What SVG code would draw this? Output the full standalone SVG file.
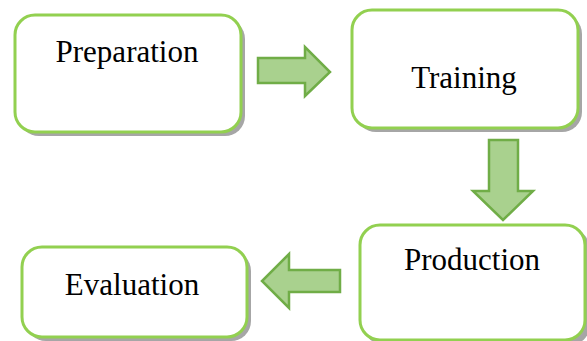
<svg xmlns="http://www.w3.org/2000/svg" width="587" height="341" viewBox="0 0 587 341">
<defs>
<style>
.shadow{fill:#a6a6a6;}
.box{fill:#ffffff;stroke:#92d050;stroke-width:3;}
.arrow{fill:#a9d18e;stroke:#70ad47;stroke-width:2.5;stroke-linejoin:miter;}
.label{font-family:"Liberation Serif","Times New Roman",serif;font-size:31px;fill:#000;text-anchor:middle;}
</style>
</defs>
<rect width="587" height="341" fill="#ffffff"/>
<g id="connectors">
<polygon class="arrow" points="258,58 305,58 305,47 330,72 305,96 305,83 258,83"/>
<polygon class="arrow" points="489,140 518,140 518,191 533,191 503,220 473,191 489,191"/>
<polygon class="arrow" points="340,270 289,270 289,254 262,281 289,308 289,292 340,292"/>
</g>
<g id="preparation">
<rect class="shadow" x="19" y="19" width="226" height="117" rx="20"/>
<rect class="box" x="15" y="15" width="226" height="117" rx="20"/>
<text class="label" x="127" y="62">Preparation</text>
</g>
<g id="training">
<rect class="shadow" x="356" y="14" width="226" height="118" rx="20"/>
<rect class="box" x="352" y="10" width="226" height="118" rx="20"/>
<text class="label" x="464" y="88">Training</text>
</g>
<g id="production">
<rect class="shadow" x="364" y="229" width="226" height="116" rx="20"/>
<rect class="box" x="360" y="225" width="225" height="115" rx="20"/>
<text class="label" x="472" y="270">Production</text>
</g>
<g id="evaluation">
<rect class="shadow" x="26" y="251" width="225" height="90" rx="20"/>
<rect class="box" x="22" y="247" width="225" height="90" rx="20"/>
<text class="label" x="132" y="295">Evaluation</text>
</g>
</svg>
